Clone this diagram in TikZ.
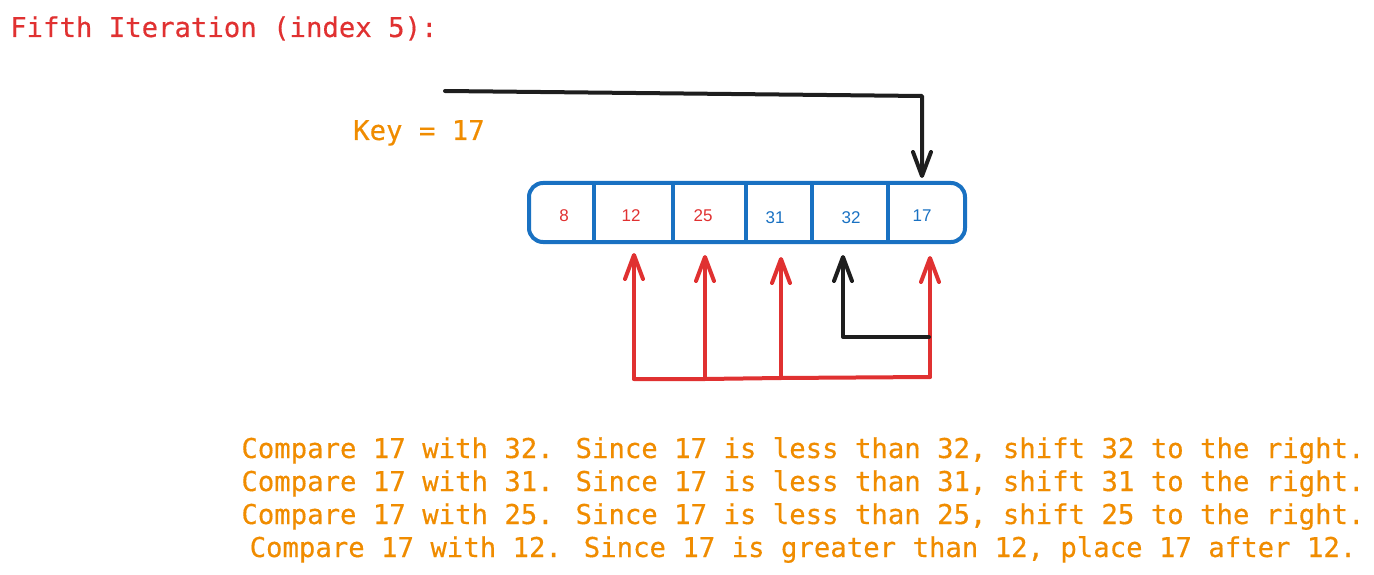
\documentclass[tikz,border=0pt]{standalone}
\usepackage{fontspec}
\usetikzlibrary{arrows.meta}
\newfontfamily\monofont[FakeBold=0.4]{DejaVu Sans Mono}
\newfontfamily\cellfont{Liberation Sans}
\definecolor{xred}{HTML}{E03131}
\definecolor{xblue}{HTML}{1971C2}
\definecolor{xorange}{HTML}{F08C00}
\definecolor{xblack}{HTML}{1E1E1E}
\begin{document}
\begin{tikzpicture}[x=1pt,y=-1pt,
  mono/.style={inner sep=0pt,font=\monofont\fontsize{27.3}{33}\selectfont},
  cellnum/.style={inner sep=0pt,anchor=base,font=\cellfont\fontsize{17}{20}\selectfont},
  conn/.style={line width=4pt,line cap=round,line join=round},
  tip/.style={-{Straight Barb[length=24pt,width=18pt,line cap=round,line join=round]}}
]
\useasboundingbox (0,0) rectangle (1374,575);
% title and key
\node[mono,anchor=base west,text=xred] (title) at (10,37) {Fifth Iteration (index 5):};
\node[mono,anchor=base west,text=xorange] (key) at (353,140) {Key = 17};
% array box
\node[draw=xblue,line width=4pt,rounded corners=14pt,minimum width=436pt,minimum height=59pt,inner sep=0pt] (arr) at (747,212.5) {};
\foreach \x in {594,673,746,812,888}{
  \draw[xblue,line width=4pt] (\x,183) -- (\x,242);
}
\node[cellnum,text=xred] (c0) at (564,222) {8};
\node[cellnum,text=xred] (c1) at (631,222) {12};
\node[cellnum,text=xred] (c2) at (703,221) {25};
\node[cellnum,text=xblue] (c3) at (775,223) {31};
\node[cellnum,text=xblue] (c4) at (851,223) {32};
\node[cellnum,text=xblue] (c5) at (922,222) {17};
% top arrow
\coordinate (ks) at (445,91);
\coordinate (kc) at (922,96);
\coordinate (kt) at (922,178);
\draw[conn,xblack,tip] (ks) -- (kc) -- (kt);
% red arrows
\coordinate (b1) at (634,379);
\coordinate (b2) at (705,379);
\coordinate (b3) at (781,378);
\coordinate (b5) at (930,377);
\coordinate (t1) at (634,253);
\coordinate (t2) at (705,255);
\coordinate (t3) at (781,257);
\coordinate (t5) at (930,256);
\draw[conn,xred] (b1) -- (b2) -- (b3) -- (b5);
\draw[conn,xred,tip] (b1) -- (t1);
\draw[conn,xred,tip] (b2) -- (t2);
\draw[conn,xred,tip] (b3) -- (t3);
\draw[conn,xred,tip] (b5) -- (t5);
% black arrow
\coordinate (m5) at (929,337);
\coordinate (m4) at (843,337);
\coordinate (t4) at (843,255);
\draw[conn,xblack,tip] (m5) -- (m4) -- (t4);
% explanation
\node[mono,anchor=base,text=xorange] (l1) at (803,458) {Compare 17 with 32. Since 17 is less than 32, shift 32 to the right.};
\node[mono,anchor=base,text=xorange] (l2) at (803,491) {Compare 17 with 31. Since 17 is less than 31, shift 31 to the right.};
\node[mono,anchor=base,text=xorange] (l3) at (803,524) {Compare 17 with 25. Since 17 is less than 25, shift 25 to the right.};
\node[mono,anchor=base,text=xorange] (l4) at (803,557) {Compare 17 with 12. Since 17 is greater than 12, place 17 after 12.};
\end{tikzpicture}
\end{document}
